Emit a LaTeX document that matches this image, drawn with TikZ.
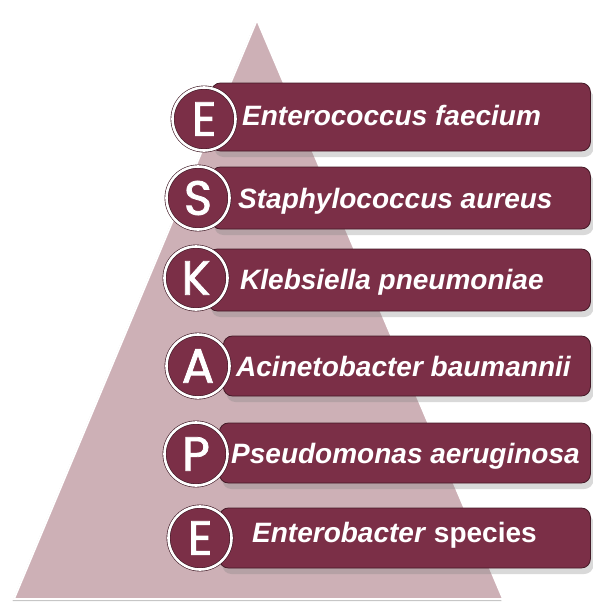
\documentclass[tikz,border=0pt]{standalone}
\usepackage{fontspec}
\setmainfont{Liberation Sans}
\newfontfamily\lettfont[FakeBold=1.6]{Poppins}
\usetikzlibrary{shadows, positioning}

\definecolor{maroon}{RGB}{123,47,71}
\definecolor{pyrpink}{RGB}{205,176,182}

\begin{document}
\begin{tikzpicture}[x=1pt, y=-1pt,
    pyramid/.style={fill=pyrpink, draw=white, line width=1.8pt, line join=miter,
        drop shadow={shadow xshift=-1.5pt, shadow yshift=-2pt, fill=gray, opacity=0.45}},
    bar/.style={rounded corners=9pt, fill=maroon, draw=maroon!55!black, line width=0.8pt,
        inner sep=0pt, anchor=west,
        drop shadow={shadow xshift=3pt, shadow yshift=-6pt, fill=gray, opacity=0.3}},
    lett/.style={circle, fill=maroon, draw=maroon!50!black, double=white, double distance=2.6pt,
        line width=0.6pt, minimum size=63pt, inner sep=0pt, text=white,
        font=\lettfont\fontsize{48}{48}\selectfont},
    spname/.style={anchor=base west, inner sep=0pt, text=white,
        font=\bfseries\itshape\fontsize{28}{28}\selectfont}
]
    \useasboundingbox (0,0) rectangle (592,605);

    % pyramid behind the bars
    \coordinate (apex)  at (257,20);
    \coordinate (baseL) at (14,599);
    \coordinate (baseR) at (503,599);
    \draw[pyramid] (apex) -- (baseL) -- (baseR) -- cycle;

    % bars
    \node[bar, minimum width=379pt, minimum height=68pt] (b1) at (211,117) {};
    \node[bar, minimum width=379pt, minimum height=62pt] (b2) at (211,198) {};
    \node[bar, minimum width=382pt, minimum height=62pt] (b3) at (208,280) {};
    \node[bar, minimum width=367pt, minimum height=60pt] (b4) at (223,366) {};
    \node[bar, minimum width=371pt, minimum height=60pt] (b5) at (219,453) {};
    \node[bar, minimum width=371pt, minimum height=60pt] (b6) at (219,538) {};

    % letters
    \node[lett] (e1) at (204,119) {E};
    \node[lett] (s)  at (198,198) {S};
    \node[lett] (k)  at (196,278) {K};
    \node[lett] (a)  at (198,366) {A};
    \node[lett] (p)  at (196,454) {P};
    \node[lett] (e2) at (200,538) {E};

    % species names
    \node[spname] (n1) at (242,125) {Enterococcus faecium};
    \node[spname] (n2) at (238,208) {Staphylococcus aureus};
    \node[spname] (n3) at (240,289) {Klebsiella pneumoniae};
    \node[spname] (n4) at (236,376) {Acinetobacter baumannii};
    \node[spname] (n5) at (231,463) {Pseudomonas aeruginosa};
    \node[spname] (n6) at (252,542) {Enterobacter\/ \upshape species};
\end{tikzpicture}
\end{document}
